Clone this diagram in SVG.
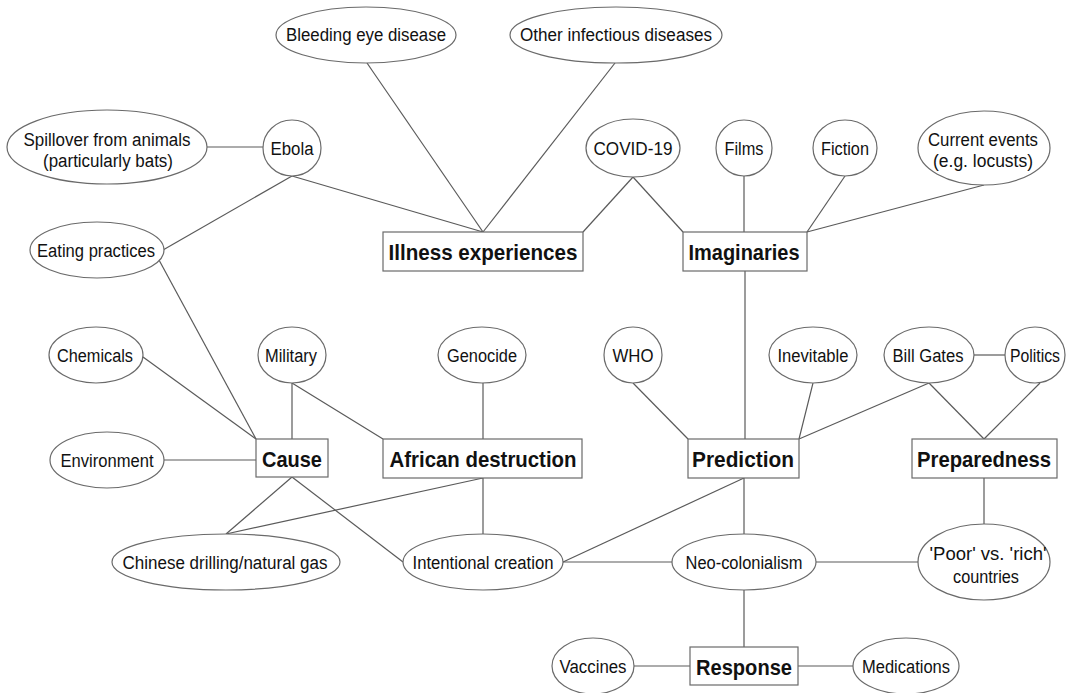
<svg xmlns="http://www.w3.org/2000/svg" width="1066" height="693" viewBox="0 0 1066 693">
<style>
.e{fill:#fff;stroke:#6a6a6a;stroke-width:1.2}
.b{fill:#fff;stroke:#6a6a6a;stroke-width:1.2}
.t{font-family:"Liberation Sans",Arial,sans-serif;font-size:18px;fill:#111;text-anchor:middle}
.h{font-family:"Liberation Sans",Arial,sans-serif;font-size:22px;font-weight:bold;fill:#111;text-anchor:middle}
#connectors line{stroke:#5a5a5a;stroke-width:1.2}
</style>
<rect width="1066" height="693" fill="#fff"/>
<g id="connectors">
<line x1="207" y1="147" x2="263" y2="147"/>
<line x1="292" y1="176" x2="163" y2="250"/>
<line x1="292" y1="176" x2="483" y2="232"/>
<line x1="367" y1="63" x2="483" y2="232"/>
<line x1="615" y1="63" x2="483" y2="232"/>
<line x1="633" y1="177" x2="583" y2="232"/>
<line x1="633" y1="177" x2="683" y2="232"/>
<line x1="744" y1="176" x2="744" y2="232"/>
<line x1="845" y1="176" x2="807" y2="232"/>
<line x1="984" y1="185" x2="807" y2="232"/>
<line x1="745" y1="271" x2="745" y2="439"/>
<line x1="159" y1="260" x2="256" y2="439"/>
<line x1="143" y1="357" x2="256" y2="439"/>
<line x1="292" y1="383" x2="292" y2="439"/>
<line x1="292" y1="383" x2="383" y2="439"/>
<line x1="164" y1="460" x2="256" y2="460"/>
<line x1="292" y1="477" x2="226" y2="534"/>
<line x1="292" y1="477" x2="403" y2="562"/>
<line x1="483" y1="478" x2="226" y2="534"/>
<line x1="483" y1="383" x2="483" y2="439"/>
<line x1="483" y1="478" x2="483" y2="534"/>
<line x1="633" y1="383" x2="688" y2="439"/>
<line x1="813" y1="383" x2="799" y2="439"/>
<line x1="929" y1="383" x2="799" y2="439"/>
<line x1="929" y1="383" x2="984" y2="439"/>
<line x1="974" y1="355" x2="1005" y2="355"/>
<line x1="1040" y1="383" x2="984" y2="439"/>
<line x1="984" y1="478" x2="984" y2="524"/>
<line x1="744" y1="478" x2="563" y2="562"/>
<line x1="744" y1="478" x2="744" y2="534"/>
<line x1="563" y1="562" x2="672" y2="562"/>
<line x1="816" y1="562" x2="918" y2="562"/>
<line x1="744" y1="590" x2="744" y2="647"/>
<line x1="634" y1="666" x2="690" y2="666"/>
<line x1="798" y1="666" x2="853" y2="666"/>
</g>
<g id="n-bleeding"><ellipse class="e" cx="366" cy="35" rx="90" ry="28"/><text class="t" x="366" y="41" textLength="160" lengthAdjust="spacingAndGlyphs">Bleeding eye disease</text></g>
<g id="n-other"><ellipse class="e" cx="616" cy="35" rx="106" ry="28"/><text class="t" x="616" y="41" textLength="192" lengthAdjust="spacingAndGlyphs">Other infectious diseases</text></g>
<g id="n-spillover"><ellipse class="e" cx="107" cy="147" rx="100" ry="37"/><text class="t" x="107" y="146" textLength="167" lengthAdjust="spacingAndGlyphs">Spillover from animals</text><text class="t" x="108" y="167" textLength="130" lengthAdjust="spacingAndGlyphs">(particularly bats)</text></g>
<g id="n-ebola"><ellipse class="e" cx="292" cy="148" rx="29" ry="28"/><text class="t" x="292" y="155" textLength="43" lengthAdjust="spacingAndGlyphs">Ebola</text></g>
<g id="n-covid"><ellipse class="e" cx="633" cy="148" rx="47" ry="29"/><text class="t" x="633" y="155" textLength="79" lengthAdjust="spacingAndGlyphs">COVID-19</text></g>
<g id="n-films"><ellipse class="e" cx="744" cy="148" rx="28" ry="28"/><text class="t" x="744" y="155" textLength="39" lengthAdjust="spacingAndGlyphs">Films</text></g>
<g id="n-fiction"><ellipse class="e" cx="845" cy="148" rx="32" ry="28"/><text class="t" x="845" y="155" textLength="48" lengthAdjust="spacingAndGlyphs">Fiction</text></g>
<g id="n-current"><ellipse class="e" cx="984" cy="148" rx="66" ry="37"/><text class="t" x="983" y="146" textLength="110" lengthAdjust="spacingAndGlyphs">Current events</text><text class="t" x="983" y="167" textLength="100" lengthAdjust="spacingAndGlyphs">(e.g. locusts)</text></g>
<g id="n-eating"><ellipse class="e" cx="97" cy="250" rx="67" ry="28"/><text class="t" x="96" y="257" textLength="118" lengthAdjust="spacingAndGlyphs">Eating practices</text></g>
<g id="n-chemicals"><ellipse class="e" cx="96" cy="355" rx="47" ry="28"/><text class="t" x="95" y="362" textLength="76" lengthAdjust="spacingAndGlyphs">Chemicals</text></g>
<g id="n-military"><ellipse class="e" cx="292" cy="355" rx="34" ry="28"/><text class="t" x="291" y="362" textLength="52" lengthAdjust="spacingAndGlyphs">Military</text></g>
<g id="n-genocide"><ellipse class="e" cx="482" cy="355" rx="44" ry="28"/><text class="t" x="482" y="362" textLength="70" lengthAdjust="spacingAndGlyphs">Genocide</text></g>
<g id="n-who"><ellipse class="e" cx="633" cy="355" rx="29" ry="28"/><text class="t" x="633" y="362" textLength="41" lengthAdjust="spacingAndGlyphs">WHO</text></g>
<g id="n-inevitable"><ellipse class="e" cx="813" cy="355" rx="44" ry="28"/><text class="t" x="813" y="362" textLength="71" lengthAdjust="spacingAndGlyphs">Inevitable</text></g>
<g id="n-billgates"><ellipse class="e" cx="929" cy="355" rx="45" ry="28"/><text class="t" x="928" y="362" textLength="71" lengthAdjust="spacingAndGlyphs">Bill Gates</text></g>
<g id="n-politics"><ellipse class="e" cx="1035" cy="355" rx="30" ry="28"/><text class="t" x="1035" y="362" textLength="50" lengthAdjust="spacingAndGlyphs">Politics</text></g>
<g id="n-environment"><ellipse class="e" cx="107" cy="460" rx="57" ry="28"/><text class="t" x="107" y="467" textLength="93" lengthAdjust="spacingAndGlyphs">Environment</text></g>
<g id="n-chinese"><ellipse class="e" cx="226" cy="562" rx="114" ry="28"/><text class="t" x="225" y="569" textLength="205" lengthAdjust="spacingAndGlyphs">Chinese drilling/natural gas</text></g>
<g id="n-intentional"><ellipse class="e" cx="483" cy="562" rx="80" ry="28"/><text class="t" x="483" y="569" textLength="141" lengthAdjust="spacingAndGlyphs">Intentional creation</text></g>
<g id="n-neo"><ellipse class="e" cx="744" cy="562" rx="72" ry="28"/><text class="t" x="744" y="569" textLength="117" lengthAdjust="spacingAndGlyphs">Neo-colonialism</text></g>
<g id="n-poor"><ellipse class="e" cx="984" cy="562" rx="66" ry="38"/><text class="t" x="988" y="560" textLength="117" lengthAdjust="spacingAndGlyphs">'Poor' vs. 'rich'</text><text class="t" x="986" y="583" textLength="66" lengthAdjust="spacingAndGlyphs">countries</text></g>
<g id="n-vaccines"><ellipse class="e" cx="593" cy="666" rx="41" ry="28"/><text class="t" x="593" y="673" textLength="67" lengthAdjust="spacingAndGlyphs">Vaccines</text></g>
<g id="n-medications"><ellipse class="e" cx="906" cy="666" rx="53" ry="28"/><text class="t" x="906" y="673" textLength="88" lengthAdjust="spacingAndGlyphs">Medications</text></g>
<g id="n-illness"><rect class="b" x="383" y="232" width="200" height="39"/><text class="h" x="483" y="260" textLength="189" lengthAdjust="spacingAndGlyphs">Illness experiences</text></g>
<g id="n-imaginaries"><rect class="b" x="683" y="232" width="124" height="39"/><text class="h" x="744" y="260" textLength="111" lengthAdjust="spacingAndGlyphs">Imaginaries</text></g>
<g id="n-cause"><rect class="b" x="256" y="439" width="72" height="38"/><text class="h" x="292" y="467" textLength="60" lengthAdjust="spacingAndGlyphs">Cause</text></g>
<g id="n-african"><rect class="b" x="383" y="439" width="199" height="39"/><text class="h" x="483" y="467" textLength="187" lengthAdjust="spacingAndGlyphs">African destruction</text></g>
<g id="n-prediction"><rect class="b" x="688" y="439" width="111" height="39"/><text class="h" x="743" y="467" textLength="102" lengthAdjust="spacingAndGlyphs">Prediction</text></g>
<g id="n-preparedness"><rect class="b" x="912" y="439" width="145" height="39"/><text class="h" x="984" y="467" textLength="134" lengthAdjust="spacingAndGlyphs">Preparedness</text></g>
<g id="n-response"><rect class="b" x="690" y="647" width="108" height="38"/><text class="h" x="744" y="675" textLength="96" lengthAdjust="spacingAndGlyphs">Response</text></g>
</svg>
